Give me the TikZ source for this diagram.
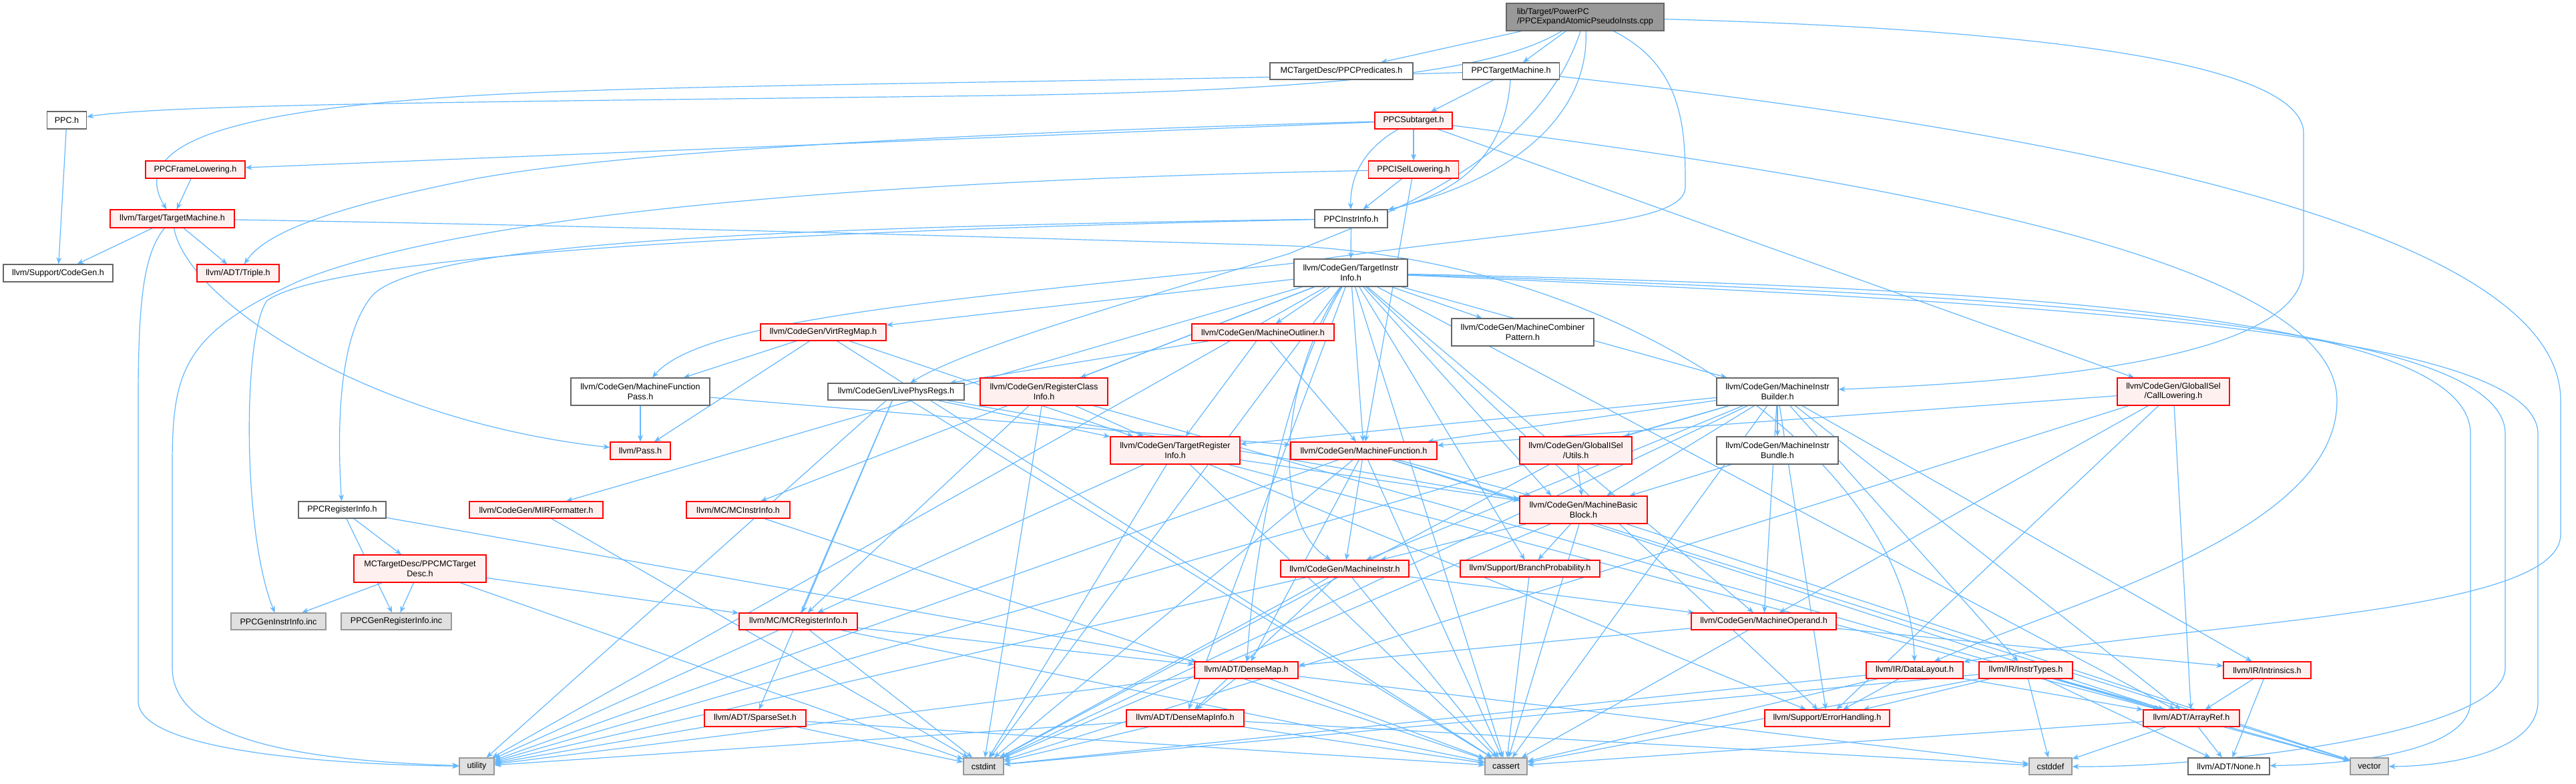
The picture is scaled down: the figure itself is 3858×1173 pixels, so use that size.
\documentclass[tikz,border=0pt]{standalone}
\usepackage{fontspec}
\setmainfont{Liberation Sans}
\usetikzlibrary{arrows.meta,calc}
\pgfdeclarelayer{bg}
\pgfsetlayers{bg,main}
\definecolor{redb}{HTML}{FF0000}
\definecolor{redf}{HTML}{FFF0F0}
\definecolor{grayb}{HTML}{666666}
\definecolor{grayc}{HTML}{999999}
\definecolor{grayf}{HTML}{E0E0E0}
\definecolor{rootf}{HTML}{999999}
\definecolor{edgec}{HTML}{63B8FF}
\tikzset{
 box/.style={rectangle, inner sep=0pt, line width=0.6pt, font=\fontsize{6.3}{7.2}\selectfont, text=black},
 rednode/.style={box, draw=redb, fill=redf},
 whitenode/.style={box, draw=grayb, fill=white},
 graynode/.style={box, draw=grayc, fill=grayf},
 rootnode/.style={box, draw=grayb, fill=rootf},
 bw/.style={minimum width=#1*0.5pt},
 bh/.style={minimum height=#1*0.5pt},
 e/.style={draw=edgec, line width=0.6pt, -{Stealth[length=5pt,width=4pt]}}
}
\begin{document}
\begin{tikzpicture}[x=0.5pt,y=-0.5pt]
\useasboundingbox (0,0) rectangle (3858,1173);
% nodes
\node[rootnode,bw=236,bh=41,align=left] (root) at (2374,25.5) {lib/Target/PowerPC\\/PPCExpandAtomicPseudoInsts.cpp};
\node[whitenode,bw=214,bh=25] (predicates) at (2009,106.5) {MCTargetDesc/PPCPredicates.h};
\node[whitenode,bw=145,bh=25] (ppctm) at (2263,106.5) {PPCTargetMachine.h};
\node[whitenode,bw=59,bh=26] (ppch) at (100,180) {PPC.h};
\node[rednode,bw=116,bh=25] (ppcsub) at (2117,180.5) {PPCSubtarget.h};
\node[rednode,bw=149,bh=26] (framelow) at (292.5,254) {PPCFrameLowering.h};
\node[rednode,bw=135,bh=26] (isel) at (2117,254) {PPCISelLowering.h};
\node[rednode,bw=186,bh=27] (tm) at (258,327.5) {llvm/Target/TargetMachine.h};
\node[whitenode,bw=109,bh=27] (ppcinstr) at (2023.5,327.5) {PPCInstrInfo.h};
\node[whitenode,bw=164,bh=26] (codegen) at (87,409) {llvm/Support/CodeGen.h};
\node[rednode,bw=123,bh=26] (triple) at (356.5,409) {llvm/ADT/Triple.h};
\node[whitenode,bw=170,bh=41,align=center] (tii) at (2023,408.5) {llvm/CodeGen/TargetInstr\\Info.h};
\node[rednode,bw=188,bh=25] (virtregmap) at (1233,497.5) {llvm/CodeGen/VirtRegMap.h};
\node[rednode,bw=213,bh=25] (outliner) at (1891.5,497.5) {llvm/CodeGen/MachineOutliner.h};
\node[whitenode,bw=213,bh=41,align=center] (combiner) at (2280.5,497.5) {llvm/CodeGen/MachineCombiner\\Pattern.h};
\node[rednode,bw=168,bh=41,align=center] (calllow) at (3255,586.5) {llvm/CodeGen/GlobalISel\\/CallLowering.h};
\node[whitenode,bw=208,bh=41,align=center] (mfpass) at (959,586.5) {llvm/CodeGen/MachineFunction\\Pass.h};
\node[whitenode,bw=204,bh=25] (livephys) at (1342,586.5) {llvm/CodeGen/LivePhysRegs.h};
\node[rednode,bw=191,bh=41,align=center] (regclass) at (1563.5,586.5) {llvm/CodeGen/RegisterClass\\Info.h};
\node[whitenode,bw=182,bh=41,align=center] (mibuilder) at (2662,586.5) {llvm/CodeGen/MachineInstr\\Builder.h};
\node[rednode,bw=90,bh=26] (pass) at (959,675) {llvm/Pass.h};
\node[rednode,bw=194,bh=41,align=center] (tri) at (1760,674.5) {llvm/CodeGen/TargetRegister\\Info.h};
\node[rednode,bw=219,bh=26] (mf) at (2042.5,675) {llvm/CodeGen/MachineFunction.h};
\node[rednode,bw=168,bh=41,align=center] (gutils) at (2360,674.5) {llvm/CodeGen/GlobalISel\\/Utils.h};
\node[whitenode,bw=182,bh=41,align=center] (mibundle) at (2662,674.5) {llvm/CodeGen/MachineInstr\\Bundle.h};
\node[whitenode,bw=131,bh=25] (ppcreg) at (512.5,763.5) {PPCRegisterInfo.h};
\node[rednode,bw=200,bh=25] (mirf) at (803,763.5) {llvm/CodeGen/MIRFormatter.h};
\node[rednode,bw=155,bh=25] (mcinstr) at (1105.5,763.5) {llvm/MC/MCInstrInfo.h};
\node[rednode,bw=191,bh=41,align=center] (mbb) at (2371.5,763.5) {llvm/CodeGen/MachineBasic\\Block.h};
\node[rednode,bw=198,bh=41,align=center] (ppcmc) at (629,851.5) {MCTargetDesc/PPCMCTarget\\Desc.h};
\node[rednode,bw=192,bh=25] (mi) at (2014,851.5) {llvm/CodeGen/MachineInstr.h};
\node[rednode,bw=209,bh=25] (branch) at (2291.5,851.5) {llvm/Support/BranchProbability.h};
\node[rednode,bw=217,bh=25] (moperand) at (2641.5,930.5) {llvm/CodeGen/MachineOperand.h};
\node[graynode,bw=142,bh=25] (geninstr) at (417,930.5) {PPCGenInstrInfo.inc};
\node[graynode,bw=165,bh=25] (genreg) at (593.5,930.5) {PPCGenRegisterInfo.inc};
\node[rednode,bw=177,bh=25] (mcreg) at (1195.5,930.5) {llvm/MC/MCRegisterInfo.h};
\node[rednode,bw=155,bh=25] (densemap) at (1866.5,1003.5) {llvm/ADT/DenseMap.h};
\node[rednode,bw=145,bh=25] (datalayout) at (2867.5,1003.5) {llvm/IR/DataLayout.h};
\node[rednode,bw=140,bh=25] (instrtypes) at (3034,1003.5) {llvm/IR/InstrTypes.h};
\node[rednode,bw=131,bh=25] (intrinsics) at (3395.5,1003.5) {llvm/IR/Intrinsics.h};
\node[rednode,bw=152,bh=25] (sparseset) at (1131,1075.5) {llvm/ADT/SparseSet.h};
\node[rednode,bw=176,bh=25] (densemapinfo) at (1775,1075.5) {llvm/ADT/DenseMapInfo.h};
\node[rednode,bw=187,bh=25] (errhand) at (2736.5,1075.5) {llvm/Support/ErrorHandling.h};
\node[rednode,bw=144,bh=25] (arrayref) at (3282,1075.5) {llvm/ADT/ArrayRef.h};
\node[graynode,bw=52,bh=25] (utility) at (714,1147.5) {utility};
\node[graynode,bw=60,bh=25] (cstdint) at (1473,1147.5) {cstdint};
\node[graynode,bw=63,bh=25] (cassert) at (2255.5,1147.5) {cassert};
\node[graynode,bw=64,bh=25] (cstddef) at (3071,1147.5) {cstddef};
\node[whitenode,bw=122,bh=25] (none) at (3338,1147.5) {llvm/ADT/None.h};
\node[graynode,bw=57,bh=25] (vector) at (3548.5,1147.5) {vector};
% edges
\begin{pgfonlayer}{bg}
\fill[white] (0,0) rectangle (3858,1173);
\draw[e] (root) .. controls (2250,100) and (2050,135) .. (1500,143) .. controls (800,152) and (250,155) .. (ppch);
\draw[e] (ppctm) .. controls (1800,120) and (1200,125) .. (900,135) .. controls (400,150) and (180,200) .. (tm);
\draw[e] (ppcsub) .. controls (1400,200) and (900,230) .. (700,270) .. controls (450,320) and (390,360) .. (triple);
\draw[e] (isel) .. controls (1300,270) and (700,320) .. (450,420) .. controls (270,500) and (258,560) .. (258,700) -- (258,1000) .. controls (258,1120) and (500,1140) .. (utility);
\draw[e] (tm) .. controls (215,380) and (207,450) .. (207,600) -- (207,1050) .. controls (207,1125) and (500,1145) .. (utility);
\draw[e] (tm) .. controls (280,450) and (550,630) .. (pass);
\draw[e] (tm) .. controls (900,338) and (1500,355) .. (1930,368) .. controls (2450,392) and (2860,700) .. (datalayout);
\draw[e] (ppcinstr) .. controls (1200,340) and (650,360) .. (560,440) .. controls (505,500) and (505,650) .. (ppcreg);
\draw[e] (ppcinstr) .. controls (1200,345) and (500,380) .. (400,450) .. controls (363,500) and (363,800) .. (geninstr);
\draw[e] (root) .. controls (3100,45) and (3450,100) .. (3450,200) -- (3450,400) .. controls (3450,530) and (3100,570) .. (mibuilder);
\draw[e] (ppctm) .. controls (3300,220) and (3835,380) .. (3835,600) -- (3835,800) .. controls (3835,920) and (3300,930) .. (datalayout);
\draw[e] (ppcsub) .. controls (2900,280) and (3500,400) .. (3500,600) .. controls (3500,800) and (3100,900) .. (datalayout);
\draw[e] (tii) .. controls (3000,430) and (3700,470) .. (3700,650) -- (3700,1050) .. controls (3700,1130) and (3500,1145) .. (none);
\draw[e] (tii) .. controls (3000,440) and (3752,480) .. (3752,650) -- (3752,1000) .. controls (3752,1100) and (3300,1150) .. (cstddef);
\draw[e] (tii) .. controls (3000,450) and (3801,490) .. (3801,650) -- (3801,1050) .. controls (3801,1130) and (3650,1148) .. (vector);
\draw[e] (root) .. controls (2380,150) and (2300,260) .. (ppcinstr);
\draw[e] (ppctm) .. controls (2255,220) and (2200,285) .. (ppcinstr);
\draw[e] (ppcsub) .. controls (2030,230) and (2022,280) .. (ppcinstr);
\draw[e] (root) .. controls (2300,250) and (2050,330) .. (1930,380) .. controls (1700,450) and (1450,520) .. (livephys);
\draw[e] (root) .. controls (2524,100) and (2524,200) .. (2524,280) .. controls (2524,340) and (2300,340) .. (1930,395) .. controls (1400,450) and (1050,480) .. (mfpass);
\draw[e] (tii) .. controls (1920,560) and (1900,780) .. (mi);
\draw[e] (tii) .. controls (1930,560) and (1880,800) .. (densemap);
\draw[e] (tii) -- ($(mbb.north west)!0.5!(mbb.north)$);
\foreach \a/\b in {root/predicates,root/ppctm,
 ppch/codegen,ppctm/ppcsub,
 ppcsub/framelow,ppcsub/isel,ppcsub/calllow,
 framelow/tm,isel/ppcinstr,isel/mf,tm/codegen,tm/triple,ppcinstr/tii,
 tii/arrayref,tii/densemapinfo,tii/mirf,tii/combiner,tii/mf,tii/mibuilder,tii/moperand,tii/outliner,tii/regclass,tii/virtregmap,tii/mcinstr,tii/branch,tii/errhand,tii/cassert,tii/cstdint,tii/utility,
 virtregmap/mfpass,virtregmap/pass,virtregmap/tri,virtregmap/cassert,
 outliner/livephys,outliner/tri,outliner/mf,
 mfpass/pass,mfpass/mf,
 livephys/tri,livephys/mbb,livephys/mcreg,livephys/sparseset,livephys/utility,livephys/cassert,
 regclass/tri,regclass/arrayref,regclass/mcreg,regclass/cstdint,
 tri/mbb,tri/arrayref,tri/mcreg,tri/errhand,tri/cassert,tri/cstdint,
 mf/arrayref,mf/densemap,mf/mbb,mf/mi,mf/cassert,mf/cstdint,mf/utility,mf/vector,
 mibuilder/mf,mibuilder/gutils,mibuilder/mibundle,mibuilder/mbb,mibuilder/tri,mibuilder/mi,mibuilder/moperand,mibuilder/instrtypes,mibuilder/intrinsics,mibuilder/arrayref,mibuilder/errhand,mibuilder/cassert,mibuilder/cstdint,mibuilder/utility,
 gutils/mbb,gutils/cstdint,mibundle/mbb,
 calllow/mf,calllow/moperand,calllow/arrayref,calllow/errhand,calllow/cstdint,
 mbb/mi,mbb/branch,mbb/cassert,mbb/cstdint,mbb/vector,
 mi/moperand,mi/densemapinfo,mi/cassert,mi/cstdint,mi/utility,
 moperand/densemap,moperand/intrinsics,moperand/cassert,
 branch/cassert,
 ppcreg/ppcmc,ppcreg/genreg,ppcreg/densemap,
 ppcmc/geninstr,ppcmc/genreg,ppcmc/mcreg,ppcmc/cstdint,
 mirf/cstdint,mcinstr/cassert,
 mcreg/densemap,mcreg/utility,mcreg/cassert,mcreg/cstdint,
 densemap/densemapinfo,densemap/utility,densemap/cassert,densemap/cstddef,
 densemapinfo/cstdint,densemapinfo/cassert,densemapinfo/cstddef,densemapinfo/utility,
 sparseset/cstdint,sparseset/cassert,sparseset/utility,
 datalayout/errhand,datalayout/arrayref,datalayout/cassert,datalayout/cstdint,
 instrtypes/errhand,instrtypes/arrayref,instrtypes/cstddef,instrtypes/none,instrtypes/vector,instrtypes/cassert,instrtypes/cstdint,
 intrinsics/arrayref,intrinsics/none,
 arrayref/cstddef,arrayref/none,arrayref/vector,arrayref/cassert}
 \draw[e] (\a) -- (\b);
\end{pgfonlayer}
\end{tikzpicture}
\end{document}
